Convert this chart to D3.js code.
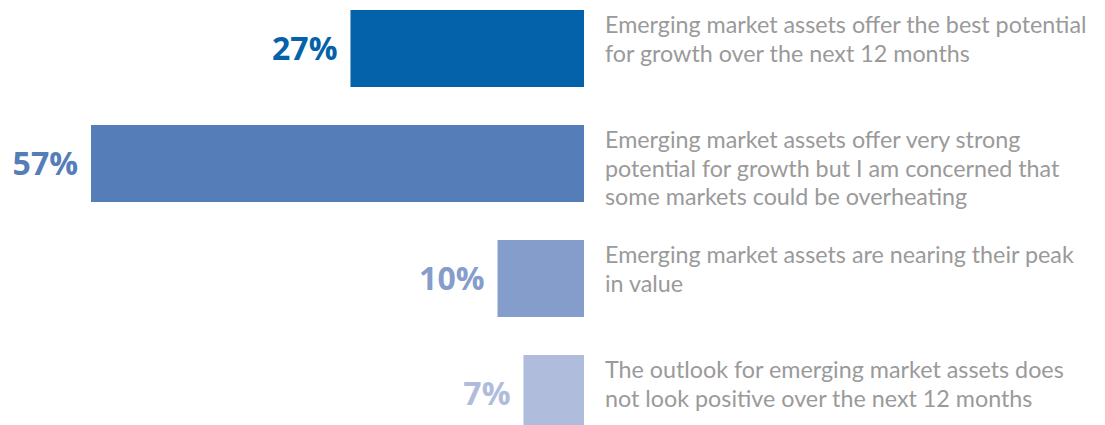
<!DOCTYPE html>
<html>
<head>
<meta charset="utf-8">
<script src="https://cdn.jsdelivr.net/npm/d3@7"></script>
<style>
  html, body { margin: 0; padding: 0; background: #fff; }
  svg { display: block; }
</style>
</head>
<body>
<svg id="chart" width="1105" height="425"></svg>
<script>
// Survey answers, one bar per answer
const answers = [
  "Emerging market assets offer the best potential for growth over the next 12 months",
  "Emerging market assets offer very strong potential for growth but I am concerned that some markets could be overheating",
  "Emerging market assets are nearing their peak in value",
  "The outlook for emerging market assets does not look positive over the next 12 months"
];
const shares = [27, 57, 10, 7];
const answerLines = [
  ["Emerging market assets offer the best potential", "for growth over the next 12 months"],
  ["Emerging market assets offer very strong", "potential for growth but I am concerned that", "some markets could be overheating"],
  ["Emerging market assets are nearing their peak", "in value"],
  ["The outlook for emerging market assets does", "not look positive over the next 12 months"]
];
const barColors = ["#0362a9", "#557db8", "#859dca", "#afbcdc"];

const svg = d3.select("#chart");
const barRight = 584;

// bars grow leftwards from a shared right edge
const x = d3.scaleLinear().domain([0, 57]).range([0, 493]);
const y = d3.scaleBand()
  .domain(d3.range(answers.length))
  .range([10, 432])
  .paddingInner(38 / 115)
  .paddingOuter(0);

const rows = svg.selectAll("g.row")
  .data(answers.map((a, i) => ({ answer: a, share: shares[i], lines: answerLines[i], color: barColors[i], i })))
  .join("g")
  .attr("class", "row");

rows.append("rect")
  .attr("x", d => barRight - x(d.share))
  .attr("y", d => y(d.i))
  .attr("width", d => x(d.share))
  .attr("height", y.bandwidth())
  .attr("fill", d => d.color);

rows.append("text")
  .attr("x", d => barRight - x(d.share) - 13)
  .attr("y", d => y(d.i) + y.bandwidth() / 2)
  .attr("dy", "0.36em")
  .attr("text-anchor", "end")
  .attr("font-family", "'Open Sans', sans-serif")
  .attr("font-weight", 700)
  .attr("font-size", 32)
  .attr("fill", d => d.color)
  .text(d => d.share + "%");

rows.append("text")
  .attr("x", 605)
  .attr("y", d => y(d.i) + 15)
  .attr("font-family", "Lato, sans-serif")
  .attr("font-size", 23.3)
  .attr("fill", "#9a9a9a")
  .selectAll("tspan")
  .data(d => d.lines)
  .join("tspan")
  .attr("x", 605)
  .attr("dy", (l, j) => j === 0 ? "0.36em" : 28.5)
  .text(l => l);
</script>
</body>
</html>
